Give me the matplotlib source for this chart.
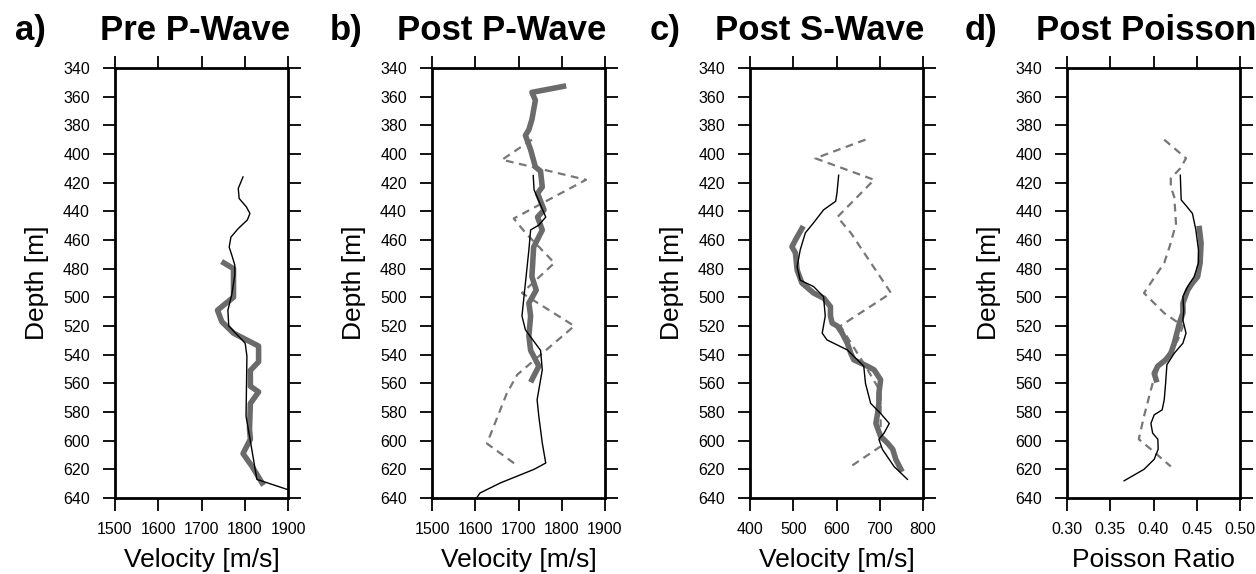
import numpy as np
import matplotlib.pyplot as plt

plt.rcParams['font.family'] = ['Liberation Sans', 'DejaVu Sans']

# ---- panel a: pre P-wave ----
a_log_depth = [416, 424, 431, 437, 441.5, 446, 452, 458, 465, 470.5, 477.5, 484.5, 498, 509, 520,
               532, 541, 583, 602, 627, 634]
a_log_vel = [1796, 1785, 1787, 1804, 1812, 1806, 1785, 1768, 1764, 1770, 1777, 1777, 1770, 1761, 1763,
             1801, 1805, 1803, 1814, 1828, 1898]
a_inv_depth = [476, 480, 500, 504, 509, 517, 525, 534, 545, 551, 562, 566, 574, 592, 599, 609, 618, 629.5]
a_inv_vel = [1752, 1774, 1774, 1757, 1737, 1747, 1774, 1832, 1832, 1813, 1813, 1832, 1813, 1811, 1813, 1796, 1817, 1840]

# ---- panel b: post P-wave ----
b_log_depth = [415, 425, 444, 449.6, 453, 467, 490, 513, 522.7, 537, 550.6, 571.5, 583, 601.7, 615.6, 620, 629.5, 636.5, 640]
b_log_vel = [1734, 1736, 1763, 1747, 1728, 1724, 1716, 1708, 1716, 1751, 1755, 1743, 1747, 1755, 1763, 1736, 1658, 1611, 1603]
b_inv_depth = [352.8, 357, 362.5, 376, 383, 387, 397, 409, 412, 423, 427.5, 439, 444, 453, 465, 485.6, 495, 504, 513, 527, 537, 548, 557.5]
b_inv_vel = [1804, 1731, 1739, 1731, 1724, 1716, 1728, 1739, 1751, 1755, 1744, 1759, 1744, 1755, 1735, 1731, 1741, 1724, 1728, 1724, 1728, 1747, 1731]
b_old_depth = [390, 404, 418, 445, 455, 476, 497, 520, 554, 567, 602, 618]
b_old_vel = [1731, 1662, 1856, 1689, 1716, 1783, 1708, 1829, 1697, 1673, 1627, 1700]

# ---- panel c: post S-wave ----
c_log_depth = [414.8, 427.5, 433, 439, 448, 455, 467, 478.6, 488, 492.5, 499.5, 513, 525, 529.7, 536.7,
               548, 560, 574, 581, 588, 594.7, 599, 606, 618, 627]
c_log_vel = [605, 601, 598, 570, 547, 528, 516, 509, 516, 547, 570, 574, 567, 578, 625,
             663, 667, 679, 702, 722, 710, 698, 706, 733, 764]
c_inv_depth = [452, 460, 464.7, 469, 481, 490, 497, 500.7, 506.5, 513, 518, 520, 525, 532, 539, 543.6,
               548, 550.6, 557.5, 567, 574, 581, 588, 597, 601.7, 606, 613, 620]
c_inv_vel = [520, 505, 497, 505, 509, 520, 547, 571, 586, 586, 590, 602, 613, 625, 633, 640,
             671, 687, 702, 698, 698, 695, 691, 702, 718, 730, 737, 749]
c_old_depth = [390, 403, 418, 444, 455, 497, 520, 548, 566, 585, 604, 618]
c_old_vel = [667, 551, 687, 602, 633, 726, 609, 667, 702, 702, 702, 633]

# ---- panel d: Poisson ratio ----
d_log_depth = [414.8, 432, 436, 441.5, 453, 467, 476, 485.6, 492.5, 499.5, 509, 516, 525, 532, 539,
               547, 560, 571.5, 578.5, 582, 588, 594.7, 599, 606, 613, 620, 628]
d_log_pr = [0.431, 0.432, 0.4376, 0.445, 0.449, 0.452, 0.452, 0.447, 0.4395, 0.434, 0.435, 0.434, 0.4376,
            0.434, 0.424, 0.4155, 0.414, 0.4124, 0.410, 0.4008, 0.397, 0.399, 0.405, 0.4054, 0.4008, 0.389, 0.366]
d_inv_depth = [452, 462, 476, 485.6, 490, 495, 504, 511, 518, 525, 532, 539, 543.6, 548, 553, 557.5]
d_inv_pr = [0.453, 0.455, 0.4539, 0.451, 0.445, 0.4395, 0.434, 0.434, 0.43, 0.427, 0.424, 0.420,
            0.414, 0.405, 0.4008, 0.403]
d_old_depth = [390, 403, 410, 417, 423, 430, 448.5, 462, 476, 497, 511, 520, 530, 550.6, 560, 583, 599, 606, 618]
d_old_pr = [0.4124, 0.4376, 0.431, 0.420, 0.420, 0.424, 0.426, 0.420, 0.4124, 0.389, 0.4124, 0.434,
            0.428, 0.405, 0.399, 0.389, 0.383, 0.397, 0.420]

letters = ['a)', 'b)', 'c)', 'd)']
titles = ['Pre P-Wave', 'Post P-Wave', 'Post S-Wave', 'Post Poisson']
xlabels = ['Velocity [m/s]', 'Velocity [m/s]', 'Velocity [m/s]', 'Poisson Ratio']
xlims = [(1500, 1900), (1500, 1900), (400, 800), (0.30, 0.50)]
xticks = [np.arange(1500, 1901, 100), np.arange(1500, 1901, 100),
          np.arange(400, 801, 100), np.arange(0.30, 0.501, 0.05)]

panels = [
    (a_log_vel, a_log_depth, a_inv_vel, a_inv_depth, None, None),
    (b_log_vel, b_log_depth, b_inv_vel, b_inv_depth, b_old_vel, b_old_depth),
    (c_log_vel, c_log_depth, c_inv_vel, c_inv_depth, c_old_vel, c_old_depth),
    (d_log_pr, d_log_depth, d_inv_pr, d_inv_depth, d_old_pr, d_old_depth),
]

W, H = 1256, 574
fig = plt.figure(figsize=(W / 100, H / 100), dpi=100)

lefts = [115, 432, 750, 1067]
letter_x = [15, 330, 650, 965]
title_x = [195, 502, 820, 1146]

for i in range(4):
    ax = fig.add_axes([lefts[i] / W, 76 / H, 173 / W, 430 / H])
    lv, ld, iv, idp, ov, od = panels[i]
    if ov is not None:
        ax.plot(ov, od, color='#777777', lw=1.6, ls=(0, (3.5, 2.5)), zorder=2)
    ax.plot(iv, idp, color='#6b6b6b', lw=4.0, solid_joinstyle='round', zorder=3)
    ax.plot(lv, ld, color='black', lw=1.0, zorder=4)

    ax.set_xlim(*xlims[i])
    ax.set_ylim(640, 340)
    ax.set_xticks(xticks[i])
    if i == 3:
        ax.set_xticklabels(['%.2f' % t for t in xticks[i]])
    ax.set_yticks(np.arange(340, 641, 20))
    ax.tick_params(direction='out', length=9, width=1.3, labelsize=11.5, pad=8,
                   top=True, right=True)
    ax.tick_params(axis='y', pad=9)
    for s in ax.spines.values():
        s.set_linewidth(2)
    ax.set_xlabel(xlabels[i], fontsize=19, labelpad=8)
    ax.set_ylabel('Depth [m]', fontsize=19, labelpad=10)

    fig.text(letter_x[i] / W, 1 - 40 / H, letters[i], fontsize=25, fontweight='bold',
             ha='left', va='baseline')
    fig.text(title_x[i] / W, 1 - 40 / H, titles[i], fontsize=25, fontweight='bold',
             ha='center', va='baseline')

fig.savefig('out.png', dpi=100)
